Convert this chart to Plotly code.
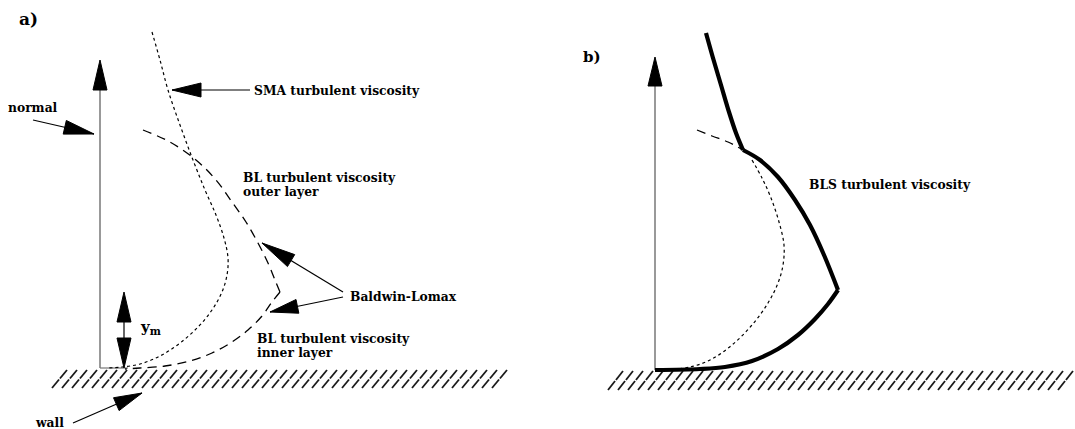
import plotly.graph_objects as go
import numpy as np

W, H = 1075, 429

# ---- curve data (pixel coords of the schematic, y downward) ----
sma_a_x = [152, 160, 168, 180, 193, 205, 216, 224, 228, 227, 222, 212, 198, 180, 160, 140, 122, 108]
sma_a_y = [32, 60, 90, 125, 160, 190, 215, 238, 258, 275, 292, 310, 327, 343, 356, 364, 367, 368]

bl_outer_x = [143, 170, 196, 216, 232, 246, 258, 268, 275, 280]
bl_outer_y = [130, 142, 160, 180, 202, 222, 243, 263, 280, 292]
bl_inner_x = [280, 272, 262, 248, 232, 212, 190, 165, 140, 125]
bl_inner_y = [292, 302, 316, 330, 342, 353, 361, 366, 368, 369]

bls_top_x = [706, 713, 721, 729, 736, 743]
bls_top_y = [33, 58, 85, 112, 133, 150]
bls_mid_x = [743, 760, 778, 795, 810, 824, 838]
bls_mid_y = [150, 160, 177, 200, 225, 255, 290]
bls_low_x = [838, 828, 815, 798, 778, 752, 725, 700, 655]
bls_low_y = [290, 304, 319, 335, 349, 361, 367, 369, 370]

dash_b_x = [697, 712, 728, 743]
dash_b_y = [130, 136, 142, 150]
dot_b_x = [752, 762, 771, 779, 784, 783, 778, 768, 752, 732, 710, 690, 672]
dot_b_y = [160, 178, 198, 222, 245, 265, 283, 303, 325, 345, 360, 367, 369]

fig = go.Figure()

def line(x, y, color="black", width=1.2, dash="solid", shape="spline"):
    fig.add_trace(go.Scatter(x=x, y=y, mode="lines", hoverinfo="skip",
                             line=dict(color=color, width=width, dash=dash, shape=shape,
                                       smoothing=1.0 if shape == "spline" else None)))

def head(tx, ty, sx, sy, L=30, hw=7, color="black"):
    d = np.array([sx - tx, sy - ty], float)
    u = d / np.linalg.norm(d)
    n = np.array([-u[1], u[0]])
    b = np.array([tx, ty]) + L * u
    p1 = b + hw * n
    p2 = b - hw * n
    fig.add_trace(go.Scatter(x=[tx, p1[0], p2[0], tx], y=[ty, p1[1], p2[1], ty],
                             mode="lines", fill="toself", fillcolor=color,
                             line=dict(color=color, width=1), hoverinfo="skip"))

def arrow(tx, ty, sx, sy, L=30, hw=7, color="black", lc="black", lw=1.2):
    line([tx, sx], [ty, sy], color=lc, width=lw, shape="linear")
    head(tx, ty, sx, sy, L, hw, color)

def hatch(x0, x1, y0, y1, step=10, slant=15):
    xs, ys = [], []
    ym = (y0 + y1) / 2
    x = x0
    while x + slant <= x1:
        xs += [x, x + slant * 0.47, None, x + slant * 0.53, x + slant, None]
        ys += [y1, ym + 0.5, None, ym - 0.5, y0, None]
        x += step
    fig.add_trace(go.Scatter(x=xs, y=ys, mode="lines", hoverinfo="skip",
                             line=dict(color="#1a1a1a", width=1.8)))

# ---- panel a ----
hatch(52, 510, 370, 388)
line([100, 100], [368, 85], color="#777", width=1.5, shape="linear")
head(100, 60, 100, 100, L=30, hw=7)
line([100, 128], [368, 368], color="#777", width=1.2, shape="linear")
line(sma_a_x, sma_a_y, dash="dot", width=1.2)
line(bl_outer_x, bl_outer_y, dash="9px,6px", width=1.3)
line(bl_inner_x, bl_inner_y, dash="9px,6px", width=1.3)

arrow(172, 90, 250, 90, L=29, hw=7)
arrow(94, 134, 33, 120, L=30, hw=7)
arrow(262, 243, 343, 292, L=34, hw=7)
arrow(270, 312, 343, 297, L=28, hw=7)
arrow(142, 393, 73, 423, L=28, hw=7)
line([124, 124], [300, 360], width=1.2, shape="linear")
head(124, 292, 124, 330, L=30, hw=7)
head(124, 368, 124, 330, L=30, hw=7)

# ---- panel b ----
hatch(608, 1073, 371, 390)
line([655, 655], [370, 80], color="#777", width=1.5, shape="linear")
head(655, 57, 655, 100, L=29, hw=7)
line(dash_b_x, dash_b_y, dash="9px,6px", width=1.3)
line(dot_b_x, dot_b_y, dash="dot", width=1.2)
line(bls_top_x, bls_top_y, width=4.2)
line(bls_mid_x, bls_mid_y, width=4.2)
line(bls_low_x, bls_low_y, width=4.2)

# ---- text ----
FAM = "DejaVu Serif"
def txt(x, y, s, size=12.3, anchor="left"):
    fig.add_annotation(x=x, y=y, text=s, showarrow=False, xanchor=anchor, yanchor="middle",
                       font=dict(family=FAM, size=size, color="black"))

txt(17, 19, "<b>a)</b>", size=17)
txt(581, 57, "<b>b)</b>", size=15)
txt(252, 90, "<b>SMA turbulent viscosity</b>")
txt(6, 107, "<b>normal</b>")
txt(241, 177, "<b>BL turbulent viscosity</b>")
txt(241, 191, "<b>outer layer</b>")
txt(348, 296, "<b>Baldwin-Lomax</b>")
txt(255, 338, "<b>BL turbulent viscosity</b>")
txt(255, 352, "<b>inner layer</b>")
txt(33, 422, "<b>wall</b>")
txt(807, 184, "<b>BLS turbulent viscosity</b>")
txt(138, 327, "<b>y</b><sub><b>m</b></sub>", size=15)

fig.update_layout(width=W, height=H, margin=dict(l=0, r=0, t=0, b=0),
                  paper_bgcolor="white", plot_bgcolor="white", showlegend=False,
                  xaxis=dict(range=[0, W], visible=False, fixedrange=True),
                  yaxis=dict(range=[H, 0], visible=False, fixedrange=True))
fig.write_html("out.html")
